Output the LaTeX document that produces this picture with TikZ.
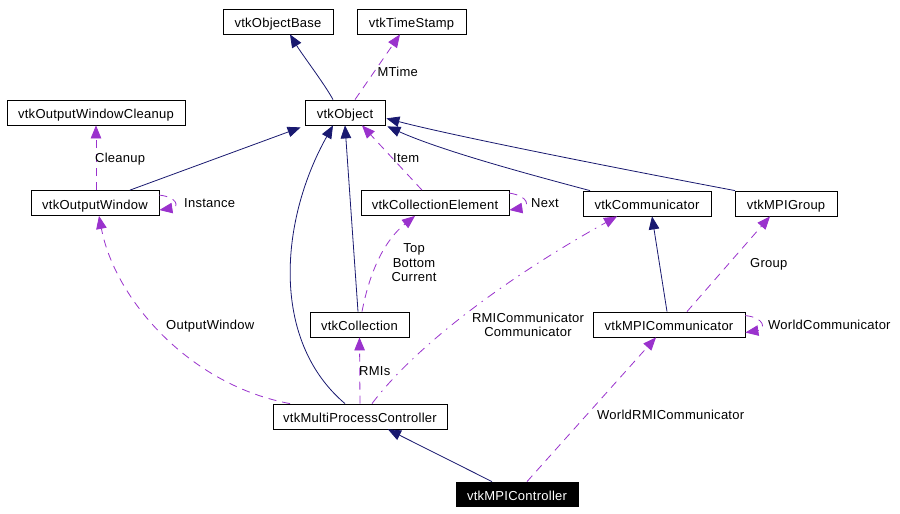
\documentclass[tikz,border=0pt]{standalone}
\usepackage{fontspec}
\setmainfont[LetterSpace=2]{Liberation Sans}
\usetikzlibrary{arrows.meta}
\definecolor{navyc}{HTML}{191970}
\definecolor{purp}{HTML}{9A32CD}
\tikzset{
  cls/.style={draw=black, line width=0.8pt, fill=white, inner sep=0pt, minimum height=25pt, text height=12pt, text depth=0pt, font=\fontsize{13}{14.5}\selectfont},
  inh/.style={navyc, line width=0.8pt, -{Triangle[length=13pt,width=10.5pt]}},
  use/.style={purp, line width=0.8pt, dash pattern=on 8pt off 6pt, -{Triangle[length=13pt,width=10.5pt]}},
  usedd/.style={purp, line width=0.8pt, dash pattern=on 9pt off 6pt on 1.5pt off 6pt, -{Triangle[length=13pt,width=10.5pt]}},
  lbl/.style={inner sep=0pt, text=black, text height=12pt, text depth=0pt, font=\fontsize{13}{14.5}\selectfont},
  lblm/.style={inner sep=0pt, text=black, align=center, font=\fontsize{13}{14.5}\selectfont},
}
\begin{document}
\begin{tikzpicture}[x=1pt,y=-1pt]
\useasboundingbox[fill=white] (0,0) rectangle (900,514);
% classes
\node[cls, minimum width=110pt] (obase) at (278,21.5) {vtkObjectBase};
\node[cls, minimum width=109pt] (tstamp) at (411.5,21.5) {vtkTimeStamp};
\node[cls, minimum width=178pt] (owc) at (96,112.5) {vtkOutputWindowCleanup};
\node[cls, minimum width=80pt] (obj) at (345,112.5) {vtkObject};
\node[cls, minimum width=128pt] (ow) at (95,203) {vtkOutputWindow};
\node[cls, minimum width=148pt] (ce) at (435,203) {vtkCollectionElement};
\node[cls, minimum width=128pt] (comm) at (647,203.5) {vtkCommunicator};
\node[cls, minimum width=102pt] (mpig) at (786,203.5) {vtkMPIGroup};
\node[cls, minimum width=99pt] (coll) at (359.5,324.5) {vtkCollection};
\node[cls, minimum width=152pt] (mpic) at (669,324.5) {vtkMPICommunicator};
\node[cls, minimum width=174pt] (mpc) at (360,416.5) {vtkMultiProcessController};
\node[cls, minimum width=122pt, minimum height=24pt, fill=black, text=white] (mpictl) at (517,494) {vtkMPIController};
% inheritance
\draw[inh] ([xshift=-12pt]obj.north) .. controls +(-8,-15) and +(12,20) .. ([xshift=12pt]obase.south);
\draw[inh] ([xshift=35pt]ow.north) -- ([xshift=-4pt,yshift=-2pt]obj.south west);
\draw[inh] ([xshift=-15pt]mpc.north) .. controls (270,340) and (280,220) .. ([xshift=-12pt]obj.south);
\draw[inh] ([xshift=-1.5pt]coll.north) -- (obj.south);
\draw[inh] ([xshift=-57pt]comm.north) .. controls (520,172) and (440,150) .. ([xshift=2pt,yshift=-1pt]obj.south east);
\draw[inh] ([xshift=-51pt]mpig.north) .. controls (600,165) and (450,135) .. ([xshift=1pt,yshift=7pt]obj.south east);
\draw[inh] ([xshift=-2pt]mpic.north) -- ([xshift=5pt]comm.south);
\draw[inh] ([xshift=-25pt]mpictl.north) -- ([xshift=28pt]mpc.south);
% usage
\draw[use] ([xshift=10pt]obj.north) -- ([xshift=-11.5pt]tstamp.south)
  node[lbl, anchor=west, pos=0.45, xshift=2pt] {MTime};
\draw[use] ([xshift=1pt]ow.north) -- (owc.south);
\node[lbl, anchor=west] (lcleanup) at (95,156) {Cleanup};
\draw[use] ([yshift=-5pt]ow.north east) .. controls +(18,2) and +(20,-3) .. ([yshift=-7pt]ow.east);
\node[lbl, anchor=west] (linstance) at (184,201) {Instance};
\draw[use] ([xshift=-13pt]ce.north) -- ([xshift=17pt]obj.south);
\node[lbl, anchor=west] (litem) at (393,156) {Item};
\draw[use] ([yshift=-3pt]ce.north east) .. controls +(20,3) and +(20,-3) .. ([yshift=-7pt]ce.east);
\node[lbl, anchor=west] (lnext) at (531,201) {Next};
\draw[use] ([xshift=2.5pt]coll.north) .. controls (370,270) and (385,240) .. ([xshift=-20pt]ce.south);
\node[lblm] (ltbc) at (414,263) {Top\\Bottom\\Current};
\draw[use] ([xshift=-70pt]mpc.north) .. controls (190,385) and (115,300) .. ([xshift=4pt]ow.south);
\node[lbl, anchor=west] (low) at (166,323) {OutputWindow};
\draw[use] (mpc.north) -- (coll.south);
\node[lbl, anchor=west] (lrmis) at (359,369) {RMIs};
\draw[usedd] ([xshift=12pt]mpc.north) .. controls (420,340) and (520,270) .. ([xshift=-30pt]comm.south);
\node[lblm] (lrmic) at (528,325) {RMICommunicator\\Communicator};
\draw[use] ([xshift=18pt]mpic.north) -- ([xshift=-16pt]mpig.south);
\node[lbl, anchor=west] (lgroup) at (750,261) {Group};
\draw[use] ([yshift=-4pt]mpic.north east) .. controls +(20,2) and +(20,-3) .. ([yshift=-8pt]mpic.east);
\node[lbl, anchor=west] (lwc) at (768,323) {WorldCommunicator};
\draw[use] ([xshift=10pt]mpictl.north) -- ([xshift=-13pt]mpic.south);
\node[lbl, anchor=west] (lwrmi) at (597,413) {WorldRMICommunicator};
\end{tikzpicture}
\end{document}
